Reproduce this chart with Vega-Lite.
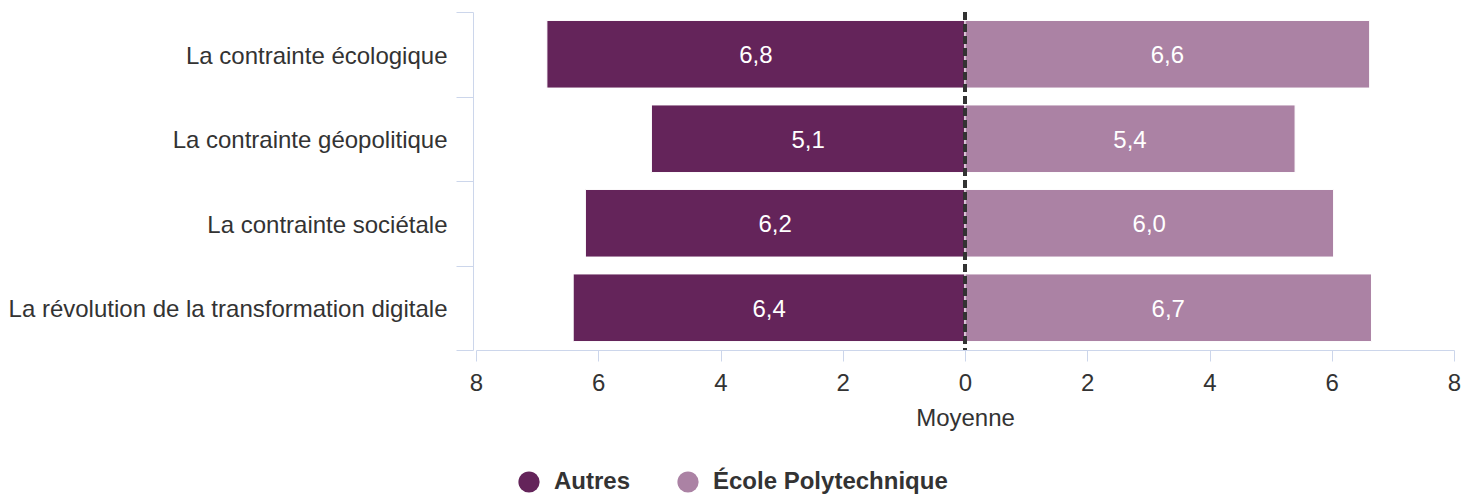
{
  "$schema": "https://vega.github.io/schema/vega-lite/v6.json",
  "autosize": {"type": "none"},
  "width": 978,
  "height": 338,
  "padding": {"left": 476, "top": 12, "right": 28, "bottom": 147},
  "background": "white",
  "config": {
    "view": {"stroke": null},
    "font": "Liberation Sans"
  },
  "data": {
    "values": [
      {"categorie": "La contrainte écologique", "groupe": "Autres", "moyenne": -6.84},
      {"categorie": "La contrainte écologique", "groupe": "École Polytechnique", "moyenne": 6.62},
      {"categorie": "La contrainte géopolitique", "groupe": "Autres", "moyenne": -5.13},
      {"categorie": "La contrainte géopolitique", "groupe": "École Polytechnique", "moyenne": 5.4},
      {"categorie": "La contrainte sociétale", "groupe": "Autres", "moyenne": -6.21},
      {"categorie": "La contrainte sociétale", "groupe": "École Polytechnique", "moyenne": 6.03},
      {"categorie": "La révolution de la transformation digitale", "groupe": "Autres", "moyenne": -6.41},
      {"categorie": "La révolution de la transformation digitale", "groupe": "École Polytechnique", "moyenne": 6.65}
    ]
  },
  "resolve": {"scale": {"x": "independent"}, "axis": {"x": "independent"}},
  "layer": [
    {
      "mark": {"type": "bar", "stroke": "white", "strokeWidth": 1, "height": {"band": 0.8}},
      "encoding": {
        "y": {
          "field": "categorie",
          "type": "nominal",
          "sort": null,
          "scale": {"paddingInner": 0, "paddingOuter": 0},
          "axis": {
            "title": null,
            "offset": 3,
            "tickBand": "extent",
            "tickSize": 17,
            "tickColor": "#CCD6EB",
            "domainColor": "#CCD6EB",
            "labelFontSize": 24,
            "labelColor": "#333333",
            "labelPadding": 9,
            "labelOffset": 2,
            "labelLimit": 600
          }
        },
        "x": {
          "field": "moyenne",
          "type": "quantitative",
          "scale": {"domain": [-8, 8], "nice": false, "zero": false},
          "axis": {
            "title": "Moyenne",
            "values": [-8, -6, -4, -2, 0, 2, 4, 6, 8],
            "labelExpr": "abs(datum.value)",
            "labelFlush": false,
            "labelOverlap": false,
            "grid": false,
            "tickSize": 11,
            "tickColor": "#CCD6EB",
            "domainColor": "#CCD6EB",
            "labelFontSize": 24,
            "labelColor": "#333333",
            "labelPadding": 10,
            "titleFontSize": 24,
            "titleFontWeight": "normal",
            "titleColor": "#333333",
            "titlePadding": 11
          }
        },
        "color": {
          "field": "groupe",
          "type": "nominal",
          "scale": {"domain": ["Autres", "École Polytechnique"], "range": ["#64245A", "#AB82A4"]},
          "legend": {
            "title": null,
            "orient": "none",
            "direction": "horizontal",
            "legendX": 41,
            "legendY": 458,
            "symbolType": "circle",
            "symbolSize": 450,
            "symbolStrokeWidth": 0,
            "symbolOpacity": 1,
            "labelFontSize": 24,
            "labelFontWeight": "bold",
            "labelColor": "#333333",
            "labelOffset": 13,
            "labelLimit": 600,
            "columnPadding": 45
          }
        }
      }
    },
    {
      "mark": {"type": "text", "color": "white", "fontSize": 24, "dy": 2, "text": {"expr": "replace(format(abs(datum.moyenne), '.1f'), '.', ',')"}},
      "encoding": {
        "y": {"field": "categorie", "type": "nominal", "sort": null},
        "x": {"field": "moyenne", "type": "quantitative", "scale": {"domain": [-16, 16], "nice": false, "zero": false}, "axis": null}
      }
    },
    {
      "mark": {"type": "rule", "color": "#333333", "strokeWidth": 3, "strokeDash": [8, 4]},
      "encoding": {"x": {"datum": 0, "scale": {"domain": [-8, 8], "nice": false, "zero": false}, "axis": null}}
    }
  ]
}
